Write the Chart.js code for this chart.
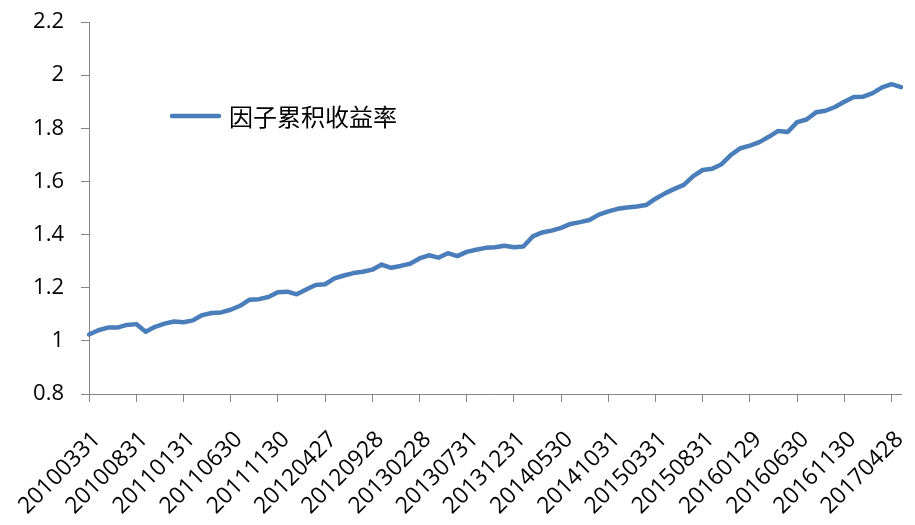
<!DOCTYPE html>
<html lang="zh">
<head>
    <meta charset="UTF-8">
    <title>因子累积收益率</title>
    <script src="https://cdn.jsdelivr.net/npm/chart.js"></script>
    <style>
        body { margin: 0; background: #fff; }
        #wrap { width: 915px; height: 525px; position: relative; }
    </style>
</head>
<body>
    <div id="wrap"><canvas id="factorChart"></canvas></div>

    <script>
        const seriesName = '因子累积收益率';

        const dates = [
            '20100331', '20100430', '20100531', '20100630', '20100730', '20100831', '20100930', '20101029', '20101130', '20101231',
            '20110131', '20110228', '20110331', '20110429', '20110531', '20110630', '20110729', '20110831', '20110930', '20111031', '20111130', '20111230',
            '20120131', '20120229', '20120330', '20120427', '20120531', '20120629', '20120731', '20120831', '20120928', '20121031', '20121130', '20121231',
            '20130131', '20130228', '20130329', '20130426', '20130531', '20130628', '20130731', '20130830', '20130930', '20131031', '20131129', '20131231',
            '20140130', '20140228', '20140331', '20140430', '20140530', '20140630', '20140731', '20140829', '20140930', '20141031', '20141128', '20141231',
            '20150130', '20150227', '20150331', '20150430', '20150529', '20150630', '20150731', '20150831', '20150930', '20151030', '20151130', '20151231',
            '20160129', '20160229', '20160331', '20160429', '20160531', '20160630', '20160729', '20160831', '20160930', '20161031', '20161130', '20161230',
            '20170126', '20170228', '20170331', '20170428', '20170531'
        ];

        const cumReturn = [
            1.024, 1.040, 1.050, 1.050, 1.060, 1.063, 1.034, 1.053, 1.065, 1.073,
            1.070, 1.077, 1.097, 1.105, 1.107, 1.117, 1.132, 1.155, 1.157, 1.165, 1.183, 1.185,
            1.175, 1.193, 1.210, 1.213, 1.235, 1.246, 1.255, 1.260, 1.268, 1.287, 1.275, 1.282,
            1.290, 1.310, 1.322, 1.313, 1.330, 1.319, 1.335, 1.343, 1.350, 1.352, 1.358, 1.352,
            1.355, 1.393, 1.408, 1.415, 1.425, 1.440, 1.447, 1.455, 1.475, 1.487, 1.497, 1.502,
            1.506, 1.511, 1.535, 1.555, 1.572, 1.587, 1.620, 1.643, 1.648, 1.665, 1.700, 1.725,
            1.735, 1.748, 1.768, 1.790, 1.786, 1.823, 1.833, 1.860, 1.866, 1.880, 1.900, 1.918,
            1.919, 1.932, 1.954, 1.966, 1.955
        ];

        const yMin = 0.8, yMax = 2.2, yStep = 0.2;
        const labelEvery = 5;

        const axisGrey = '#868686';
        const lineBlue = '#4A7EBB';

        // legend drawn inside the plot, like the excel original
        const insideLegend = {
            id: 'insideLegend',
            afterDraw(chart) {
                const ctx = chart.ctx;
                const ds = chart.data.datasets[0];
                ctx.save();
                ctx.strokeStyle = ds.borderColor;
                ctx.lineWidth = 4.5;
                ctx.lineCap = 'round';
                ctx.beginPath();
                ctx.moveTo(172, 116);
                ctx.lineTo(219, 116);
                ctx.stroke();
                ctx.fillStyle = '#000';
                ctx.font = '24px "Noto Sans CJK SC", sans-serif';
                ctx.textBaseline = 'middle';
                ctx.fillText(ds.label, 229, 117);
                ctx.restore();
            }
        };

        new Chart(document.getElementById('factorChart'), {
            type: 'line',
            data: {
                labels: dates,
                datasets: [{
                    label: seriesName,
                    data: cumReturn,
                    borderColor: lineBlue,
                    borderWidth: 4.5,
                    borderJoinStyle: 'round',
                    borderCapStyle: 'round',
                    pointRadius: 0,
                    tension: 0,
                    fill: false
                }]
            },
            options: {
                responsive: true,
                maintainAspectRatio: false,
                animation: false,
                layout: { padding: { top: 22, right: 14, left: 0, bottom: 0 } },
                plugins: {
                    legend: { display: false },
                    tooltip: { enabled: false }
                },
                scales: {
                    x: {
                        type: 'category',
                        offset: false,
                        grid: { drawOnChartArea: false, color: axisGrey, tickLength: 8 },
                        border: { color: axisGrey, width: 1 },
                        ticks: {
                            autoSkip: false,
                            minRotation: 45,
                            maxRotation: 45,
                            padding: 24,
                            labelOffset: 8,
                            color: '#000',
                            font: { family: '"Open Sans", sans-serif', size: 23 },
                            callback: function (v, i) {
                                return i % labelEvery === 0 ? this.getLabelForValue(v) : null;
                            }
                        },
                        afterFit: s => { s.height = 131; s.paddingRight = 0; s.paddingLeft = 0; }
                    },
                    y: {
                        min: yMin,
                        max: yMax,
                        grid: { drawOnChartArea: false, color: axisGrey, tickLength: 8 },
                        border: { color: axisGrey, width: 1 },
                        ticks: {
                            stepSize: yStep,
                            padding: 17,
                            color: '#000',
                            font: { family: '"Open Sans", sans-serif', size: 22 },
                            callback: v => String(Number(v.toFixed(1)))
                        },
                        afterFit: s => { s.width = 89; s.paddingTop = 0; s.paddingBottom = 0; }
                    }
                }
            },
            plugins: [insideLegend]
        });
    </script>
</body>
</html>
